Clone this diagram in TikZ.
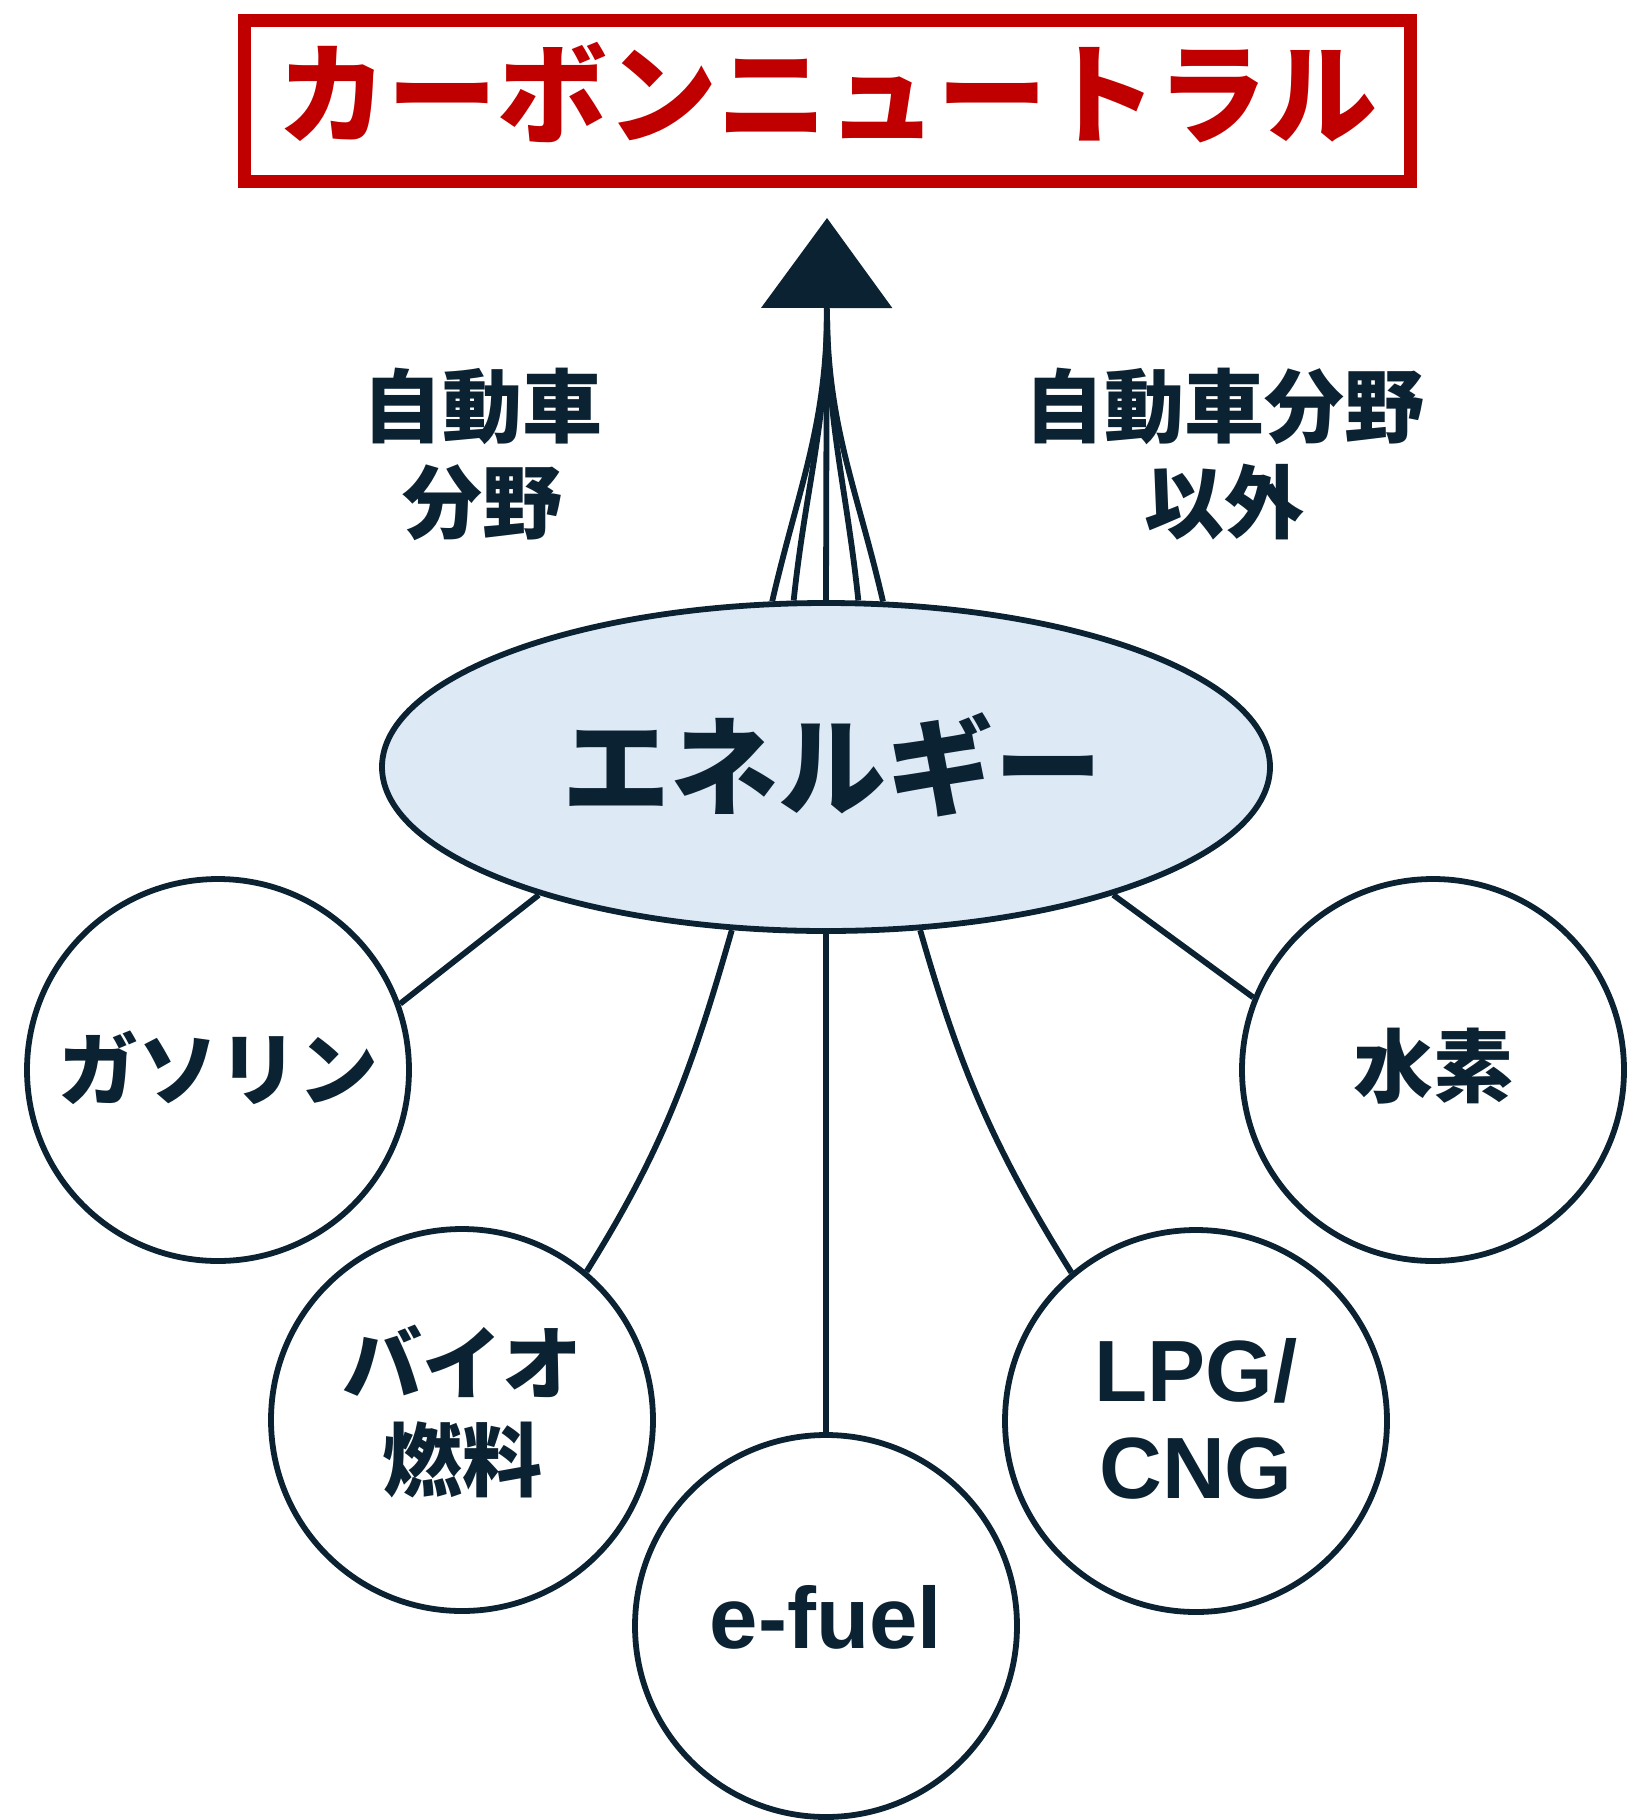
\documentclass[tikz,border=0pt]{standalone}
\usepackage{fontspec}
\setmainfont{Noto Sans CJK JP}
\newfontfamily\latinf{Liberation Sans}
\usetikzlibrary{shapes.geometric,arrows.meta}
\definecolor{navy}{HTML}{0B2233}
\definecolor{tred}{HTML}{C00000}
\definecolor{lblue}{HTML}{DDEAF6}
\newcommand{\shiftup}[2]{\raisebox{#1}[\height][\depth]{#2}}
\begin{document}
\begin{tikzpicture}[x=0.5pt,y=-0.5pt,
  lw/.style={line width=2.9pt},
  fuel/.style={circle,draw=navy,lw,minimum size=191pt,inner sep=0pt,align=center,
    font=\fontsize{40}{48}\selectfont\bfseries,text=navy},
  latin/.style={font=\fontsize{43.5}{48.5}\selectfont\latinf\bfseries},
  lbl/.style={align=center,font=\fontsize{40}{48}\selectfont\bfseries,text=navy},
  conn/.style={draw=navy,lw},
]
\useasboundingbox (0,0) rectangle (1628,1820);
\node[draw=tred,line width=6.5pt,minimum width=583pt,minimum height=80.5pt,inner sep=0pt] (title) at (827,100.5) {};
\node[font=\fontsize{55}{60}\selectfont\bfseries,text=tred,inner sep=0pt] (ttext) at (827,93) {カーボンニュートラル};
\node[ellipse,draw=navy,lw,fill=lblue,minimum width=444pt,minimum height=164pt,inner sep=0pt] (en) at (826,767) {};
\node[font=\fontsize{54}{60}\selectfont\bfseries,text=navy,inner sep=0pt] (entext) at (832,765) {エネルギー};
\node[fuel] (gas) at (218,1070) {\shiftup{1pt}{ガソリン}};
\node[fuel] (bio) at (462,1420) {\shiftup{-1pt}{\begin{tabular}{@{}c@{}}バイオ\\燃料\end{tabular}}};
\node[fuel,latin] (efu) at (826,1626) {\shiftup{4.5pt}{e-fuel}};
\node[fuel,latin] (lpg) at (1196,1421) {\shiftup{-5pt}{\begin{tabular}{@{}c@{}}LPG/\\CNG\end{tabular}}};
\node[fuel] (h2) at (1433,1070) {\shiftup{2pt}{水素}};
\node[lbl] (l1) at (482,454) {自動車\\分野};
\node[lbl] (l2) at (1224,454) {自動車分野\\以外};
\coordinate (base) at (827,309);
\coordinate (tip) at (827,218);
\draw[conn] (en.108) to[out=77,in=-90] (base);
\draw[conn] (en.101) to[out=84,in=-90] (base);
\draw[conn] (en.79) to[out=96,in=-90] (base);
\draw[conn] (en.71) to[out=103,in=-90] (base);
\draw[conn,-{Triangle[length=45pt,width=65pt]}] (en.north) -- (tip);
\draw[conn] (en.204) -- (gas.20);
\draw[conn] (en.240) to[out=-106,in=58] (bio.50);
\draw[conn] (en.south) -- (efu.north);
\draw[conn] (en.300) to[out=-74,in=122] (lpg.130);
\draw[conn] (en.336) -- (h2.158);
\end{tikzpicture}
\end{document}
